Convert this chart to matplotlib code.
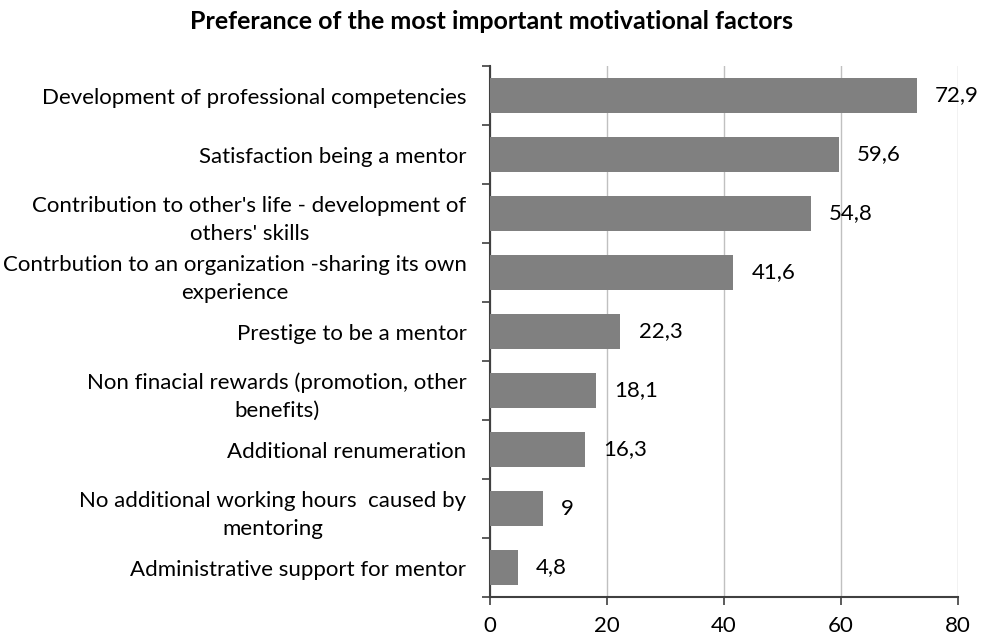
import matplotlib
matplotlib.use("Agg")
import matplotlib.pyplot as plt
import numpy as np

plt.rcParams['font.family'] = ['Lato', 'DejaVu Sans']

categories = [
    "Development of professional competencies",
    "Satisfaction being a mentor",
    "Contribution to other's life - development of\nothers' skills",
    "Contrbution to an organization -sharing its own\nexperience",
    "Prestige to be a mentor",
    "Non finacial rewards (promotion, other\nbenefits)",
    "Additional renumeration",
    "No additional working hours  caused by\nmentoring",
    "Administrative support for mentor",
]
values = [72.9, 59.6, 54.8, 41.6, 22.3, 18.1, 16.3, 9, 4.8]
value_labels = ["72,9", "59,6", "54,8", "41,6", "22,3", "18,1", "16,3", "9", "4,8"]
x_ticks = [0, 20, 40, 60, 80]

fig = plt.figure(figsize=(9.82, 6.41), dpi=100)
ax = fig.add_axes([0.499, 0.0686, 0.4766, 0.8284])

y = np.arange(len(categories))
ax.barh(y, values, height=0.58, color='#808080', zorder=3)
for yi, v, lab in zip(y, values, value_labels):
    ax.text(v + 3.1, yi, lab, va='center', ha='left', fontsize=16, color='black')

ax.set_xlim(0, 80)
ax.set_ylim(len(categories) - 0.5, -0.5)
ax.set_xticks(x_ticks)
ax.set_xticklabels([str(t) for t in x_ticks], fontsize=16)
ax.tick_params(axis='x', direction='out', length=6, width=1.2, color='#404040', pad=8)

ax.set_yticks(y)
ax.set_yticklabels(categories, fontsize=16, linespacing=1.5)
for lbl in ax.get_yticklabels():
    lbl.set_multialignment('center')
ax.tick_params(axis='y', which='major', length=0, pad=17)
ax.set_yticks(np.arange(-0.5, len(categories), 1.0), minor=True)
ax.tick_params(axis='y', which='minor', direction='out', length=6, width=1.2, color='#404040')

ax.grid(axis='x', color='#c0c0c0', linewidth=1, zorder=0)
for s in ['top', 'right']:
    ax.spines[s].set_visible(False)
ax.spines['left'].set_color('#404040')
ax.spines['left'].set_linewidth(1.5)
ax.spines['bottom'].set_color('#404040')
ax.spines['bottom'].set_linewidth(1.5)

fig.text(0.5, 0.967, "Preferance of the most important motivational factors",
         ha='center', va='center', fontsize=18, fontweight='bold')

fig.savefig('out.png', dpi=100)
